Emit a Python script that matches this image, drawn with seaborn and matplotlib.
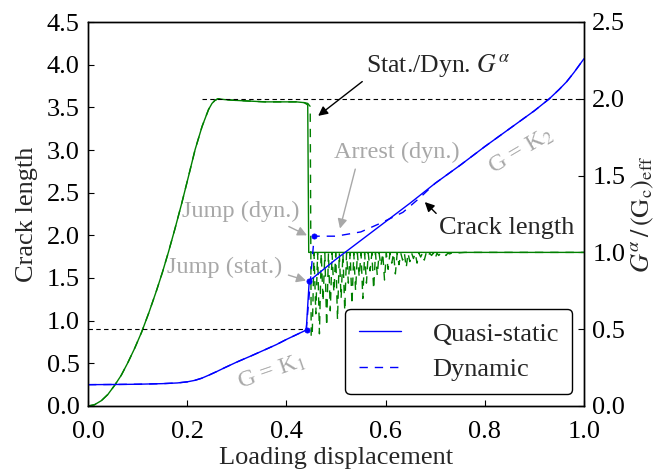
import numpy as np
import pandas as pd
import matplotlib
matplotlib.use("Agg")
import matplotlib.pyplot as plt
import seaborn as sns

# crack length vs loading displacement (left axis)
qs_disp = [0.0, 0.05, 0.1, 0.15, 0.18, 0.2, 0.215, 0.229, 0.245, 0.26, 0.276, 0.3,
           0.33, 0.357, 0.38, 0.4, 0.42, 0.44,
           0.446, 0.5, 0.55, 0.6, 0.65, 0.7, 0.75, 0.8, 0.85, 0.9, 0.93, 0.95,
           0.965, 0.98, 1.0]
qs_crack = [0.25, 0.252, 0.255, 0.262, 0.27, 0.283, 0.30, 0.325, 0.365, 0.405, 0.45, 0.515,
            0.59, 0.66, 0.72, 0.78, 0.835, 0.89,
            1.465, 1.72, 1.94, 2.16, 2.38, 2.61, 2.82, 3.04, 3.25, 3.46, 3.60, 3.71,
            3.80, 3.91, 4.07]
dyn_disp = [0.0, 0.05, 0.1, 0.15, 0.18, 0.2, 0.215, 0.229, 0.245, 0.26, 0.276, 0.3,
            0.33, 0.357, 0.38, 0.4, 0.42, 0.44,
            0.456, 0.5, 0.55, 0.589, 0.635, 0.669,
            0.7, 0.75, 0.8, 0.85, 0.9, 0.93, 0.95, 0.965, 0.98, 1.0]
dyn_crack = [0.25, 0.252, 0.255, 0.262, 0.27, 0.283, 0.30, 0.325, 0.365, 0.405, 0.45, 0.515,
             0.59, 0.66, 0.72, 0.78, 0.835, 0.89,
             1.99, 1.99, 2.04, 2.14, 2.27, 2.44,
             2.61, 2.82, 3.04, 3.25, 3.46, 3.60, 3.71, 3.80, 3.91, 4.07]
jump_disp = [0.441, 0.4456, 0.4556]
jump_crack = [0.89, 1.465, 1.988]

# energy release rate ratio G^alpha/(Gc)_eff (right axis)
g_disp = [0.0, 0.013, 0.027, 0.04, 0.054, 0.067, 0.08, 0.094, 0.108, 0.123, 0.138,
          0.15, 0.162, 0.175, 0.189, 0.203, 0.216, 0.23, 0.243, 0.25, 0.256, 0.262,
          0.275, 0.296, 0.357, 0.42, 0.436, 0.443, 0.445, 0.5, 1.0]
g_qs = [0.0, 0.008, 0.035, 0.075, 0.136, 0.20, 0.28, 0.375, 0.48, 0.61, 0.75,
        0.87, 1.0, 1.15, 1.32, 1.50, 1.67, 1.82, 1.93, 1.97, 1.99, 2.0,
        1.995, 1.99, 1.98, 1.98, 1.975, 1.96, 1.0, 1.0, 1.0]
g_dyn_pre_disp = [0.0, 0.013, 0.027, 0.04, 0.054, 0.067, 0.08, 0.094, 0.108, 0.123, 0.138,
                  0.15, 0.162, 0.175, 0.189, 0.203, 0.216, 0.23, 0.243, 0.25, 0.256, 0.262,
                  0.275, 0.296, 0.357, 0.42, 0.436, 0.443, 0.448, 0.45]
g_dyn_pre = [0.0, 0.008, 0.035, 0.075, 0.136, 0.20, 0.28, 0.375, 0.48, 0.61, 0.75,
             0.87, 1.0, 1.15, 1.32, 1.50, 1.67, 1.82, 1.93, 1.97, 1.99, 2.0,
             1.995, 1.99, 1.98, 1.98, 1.975, 1.97, 1.95, 0.45]
# oscillation after the dynamic jump: troughs, crests near 1
osc_range = (0.452, 0.74)
osc_trough = [0.45, 0.60, 0.47, 0.68, 0.52, 0.62, 0.74, 0.56, 0.70, 0.62,
              0.80, 0.66, 0.75, 0.84, 0.70, 0.80, 0.88, 0.76, 0.85, 0.91,
              0.82, 0.89, 0.93, 0.86, 0.92, 0.95, 0.90, 0.94, 0.96, 0.93,
              0.97, 0.95, 0.97, 0.98, 0.96, 0.98, 0.99, 0.98, 0.99, 0.99]
osc_crest = 0.995
g_dyn_post_disp = [0.76, 1.0]
g_dyn_post = [1.0, 1.0]

# reference levels (left-axis units)
ref_lo_disp, ref_lo_crack = [0.0, 0.44], [0.9, 0.9]
ref_hi_disp, ref_hi_crack = [0.229, 1.0], [3.6, 3.6]

osc_x = np.linspace(osc_range[0], osc_range[1], 2 * len(osc_trough))
osc_y = np.empty_like(osc_x)
osc_y[0::2] = osc_trough
osc_y[1::2] = osc_crest
g_dyn_disp = np.concatenate([g_dyn_pre_disp, osc_x, g_dyn_post_disp])
g_dyn = np.concatenate([g_dyn_pre, osc_y, g_dyn_post])

sns.set_style("ticks")
plt.rcParams.update({
    "font.family": ["Liberation Serif", "DejaVu Serif"],
    "mathtext.fontset": "stix",
    "font.size": 19,
    "axes.edgecolor": "black",
    "axes.linewidth": 1.0,
    "xtick.color": "black",
    "ytick.color": "black",
    "xtick.direction": "in",
    "ytick.direction": "in",
    "xtick.major.size": 4.5,
    "ytick.major.size": 4.5,
    "xtick.major.width": 0.8,
    "ytick.major.width": 0.8,
    "xtick.major.pad": 11,
    "ytick.major.pad": 6,
})

GRAY = "#a8a8a8"
DASH = (0, (6, 5))

fig = plt.figure(figsize=(6.57, 4.70), dpi=100)
ax = fig.add_axes([88 / 657, 64 / 470, 496 / 657, 384 / 470])
ax2 = ax.twinx()

sns.lineplot(x=ref_lo_disp, y=ref_lo_crack, ax=ax, color="k", lw=0.8,
             linestyle=(0, (4, 3)), estimator=None, sort=False, legend=False)
sns.lineplot(x=ref_hi_disp, y=ref_hi_crack, ax=ax, color="k", lw=0.8,
             linestyle=(0, (4, 3)), estimator=None, sort=False, legend=False)

sns.lineplot(x=g_disp, y=g_qs, ax=ax2, color="green", lw=1.0,
             estimator=None, sort=False, legend=False)
sns.lineplot(x=g_dyn_disp, y=g_dyn, ax=ax2, color="green", lw=1.0,
             linestyle=DASH, estimator=None, sort=False, legend=False)

qs_line = sns.lineplot(x=qs_disp, y=qs_crack, ax=ax, color="blue", lw=1.0,
                       estimator=None, sort=False, legend=False).get_lines()[-1]
dyn_line = sns.lineplot(x=dyn_disp, y=dyn_crack, ax=ax, color="blue", lw=1.0,
                        linestyle=DASH, estimator=None, sort=False,
                        legend=False).get_lines()[-1]
sns.scatterplot(x=jump_disp, y=jump_crack, ax=ax, color="blue", s=14,
                edgecolor="blue", linewidth=0.5, zorder=5, legend=False)

# keep the crack-length curves above the green ones
ax.set_zorder(ax2.get_zorder() + 1)
ax.patch.set_visible(False)

ax.set_xlim(0, 1)
ax.set_ylim(0, 4.5)
ax2.set_ylim(0, 2.5)
ax.set_xticks(np.arange(0, 1.01, 0.2))
ax.set_yticks(np.arange(0, 4.51, 0.5))
ax2.set_yticks(np.arange(0, 2.51, 0.5))
ax.xaxis.set_major_formatter(matplotlib.ticker.FormatStrFormatter("%.1f"))
ax.yaxis.set_major_formatter(matplotlib.ticker.FormatStrFormatter("%.1f"))
ax2.yaxis.set_major_formatter(matplotlib.ticker.FormatStrFormatter("%.1f"))
ax.tick_params(top=False, right=False)
ax2.tick_params(pad=6)

ax.set_xlabel("Loading displacement", labelpad=3)
ax.set_ylabel("Crack length", labelpad=6)
ax2.set_ylabel(r"$G^{\alpha}\,/\,(\mathrm{G}_\mathrm{c})_\mathrm{eff}$", labelpad=3)

ax.annotate(r"Stat./Dyn. $G^{\alpha}$", xy=(0.464, 3.40), xytext=(0.705, 3.99),
            ha="center", va="center", fontsize=18.5,
            arrowprops=dict(arrowstyle="-|>", color="k", lw=1.0,
                            relpos=(0.0, 0.0), shrinkA=0, shrinkB=0,
                            mutation_scale=14))
ax.annotate("Arrest (dyn.)", xy=(0.508, 2.08), xytext=(0.623, 2.97),
            ha="center", va="center", fontsize=17.5, color=GRAY,
            arrowprops=dict(arrowstyle="-|>", color=GRAY, lw=1.0,
                            relpos=(0.18, 0.0), shrinkA=2, shrinkB=0,
                            mutation_scale=14))
ax.annotate("Jump (dyn.)", xy=(0.4415, 2.0), xytext=(0.308, 2.28),
            ha="center", va="center", fontsize=17.5, color=GRAY,
            arrowprops=dict(arrowstyle="-|>", color=GRAY, lw=1.0,
                            relpos=(0.83, 0.0), shrinkA=2, shrinkB=0,
                            mutation_scale=14))
ax.annotate("Jump (stat.)", xy=(0.4395, 1.47), xytext=(0.276, 1.63),
            ha="center", va="center", fontsize=17.5, color=GRAY,
            arrowprops=dict(arrowstyle="-|>", color=GRAY, lw=1.0,
                            relpos=(1.0, 0.2), shrinkA=2, shrinkB=0,
                            mutation_scale=14))
ax.annotate("Crack length", xy=(0.679, 2.39), xytext=(0.845, 2.09),
            ha="center", va="center", fontsize=19,
            arrowprops=dict(arrowstyle="-|>", color="k", lw=1.0,
                            relpos=(0.0, 1.0), shrinkA=0, shrinkB=0,
                            mutation_scale=14))
ax.text(0.873, 2.99, r"G = K$_2$", color=GRAY, fontsize=17.5,
        rotation=30.5, ha="center", va="center")
ax.text(0.369, 0.40, r"G = K$_1$", color=GRAY, fontsize=17.5,
        rotation=19, ha="center", va="center")

leg = ax.legend([qs_line, dyn_line], ["Quasi-static", "Dynamic"],
                loc="lower right", fontsize=19, frameon=True, fancybox=True,
                framealpha=1.0, edgecolor="black", handlelength=1.6,
                borderaxespad=0.45, borderpad=0.5, labelspacing=0.45,
                handletextpad=1.2)
leg.get_frame().set_linewidth(1.0)

fig.savefig("out.png", dpi=100)
